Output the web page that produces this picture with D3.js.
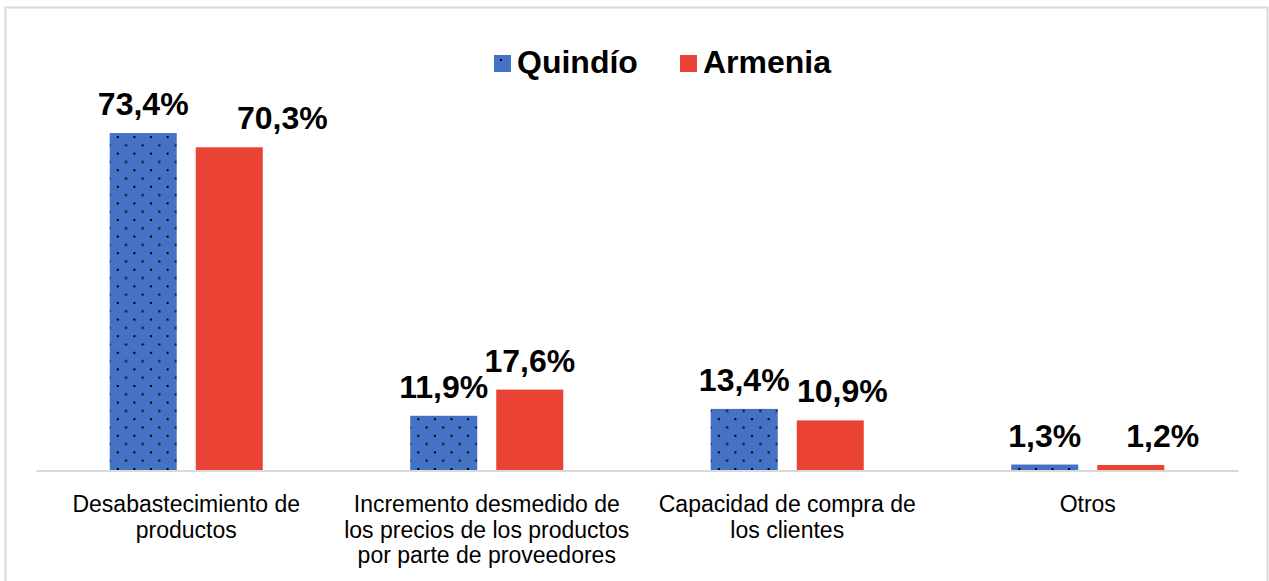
<!DOCTYPE html>
<html>
<head>
<meta charset="utf-8">
<script src="https://cdn.jsdelivr.net/npm/d3@7"></script>
<style>
  body { margin: 0; background: #fff; }
  text { font-family: Arial, "Liberation Sans", sans-serif; }
</style>
</head>
<body>
<div class="chart"></div>
<script>
// data
var categories = [
  "Desabastecimiento de\nproductos",
  "Incremento desmedido de\nlos precios de los productos\npor parte de proveedores",
  "Capacidad de compra de\nlos clientes",
  "Otros"
];
var seriesNames = ["Quindío", "Armenia"];
var quindio = [73.4, 11.9, 13.4, 1.3];
var armenia = [70.3, 17.6, 10.9, 1.2];

var W = 1269, H = 581;
var colors = {"Quindío": "url(#dots)", "Armenia": "#EA4335"};

var svg = d3.select(".chart").append("svg")
  .attr("width", W).attr("height", H);

// dotted fill for Quindío
var pat = svg.append("defs").append("pattern")
  .attr("id", "dots")
  .attr("patternUnits", "userSpaceOnUse")
  .attr("width", 16.6).attr("height", 16.6)
  .attr("x", 114).attr("y", 136);
pat.append("rect").attr("width", 16.6).attr("height", 16.6).attr("fill", "#4472C4");
pat.append("rect").attr("x", 0).attr("y", 0).attr("width", 2).attr("height", 2).attr("fill", "#000");
pat.append("rect").attr("x", 8.3).attr("y", 8.3).attr("width", 2).attr("height", 2).attr("fill", "#000");

// outer frame
svg.append("rect")
  .attr("x", 5.5).attr("y", 7.5)
  .attr("width", 1262).attr("height", 600)
  .attr("fill", "none").attr("stroke", "#d9d9d9").attr("stroke-width", 2);

var x0 = d3.scaleBand().domain(d3.range(categories.length)).range([36, 1238]).padding(0);
var x1 = d3.scaleBand().domain(seriesNames).range([0, x0.bandwidth()])
  .paddingInner(0.221).paddingOuter(0.857);
var y = d3.scaleLinear().domain([0, 80]).range([470.5, 102.7]);

var rows = categories.map(function(c, i) {
  return {i: i, values: [
    {name: "Quindío", v: quindio[i]},
    {name: "Armenia", v: armenia[i]}
  ]};
});

// label nudges (manually moved labels in the original)
var labelDx = {"Quindío": [0, 0, 0, 0], "Armenia": [53, 0, 12, 32]};

var g = svg.selectAll(".cat").data(rows).enter().append("g")
  .attr("class", "cat")
  .attr("transform", function(d) { return "translate(" + x0(d.i) + ",0)"; });

g.selectAll("rect").data(function(d) { return d.values; }).enter().append("rect")
  .attr("x", function(d) { return x1(d.name); })
  .attr("y", function(d) { return y(d.v); })
  .attr("width", x1.bandwidth())
  .attr("height", function(d) { return y(0) - y(d.v); })
  .attr("fill", function(d) { return colors[d.name]; });

g.selectAll(".lbl").data(function(d) { return d.values.map(function(v) { return {name: v.name, v: v.v, i: d.i}; }); })
  .enter().append("text")
  .attr("class", "lbl")
  .attr("x", function(d) { return x1(d.name) + x1.bandwidth() / 2 + labelDx[d.name][d.i]; })
  .attr("y", function(d) { return y(d.v) - 18; })
  .attr("text-anchor", "middle")
  .attr("font-size", "32px")
  .attr("font-weight", "bold")
  .attr("fill", "#000")
  .text(function(d) { return d3.format(".1f")(d.v).replace(".", ",") + "%"; });

// axis
var axis = svg.append("g")
  .attr("transform", "translate(0," + y(0) + ")")
  .call(d3.axisBottom(x0).tickSize(0).tickFormat(""));
axis.select(".domain").attr("stroke", "#d9d9d9").attr("stroke-width", 2);

var tl = svg.selectAll(".catlabel").data(categories).enter().append("text")
  .attr("class", "catlabel")
  .attr("text-anchor", "middle")
  .attr("font-size", "23px")
  .attr("fill", "#000")
  .attr("transform", function(d, i) { return "translate(" + (x0(i) + x0.bandwidth() / 2) + ",512)"; });
tl.selectAll("tspan").data(function(d) { return d.split("\n"); }).enter().append("tspan")
  .attr("x", 0)
  .attr("y", function(d, j) { return j * 25.5; })
  .text(function(d) { return d; });

// legend
var legendX = [494, 680];
var lg = svg.selectAll(".leg").data(seriesNames).enter().append("g")
  .attr("class", "leg")
  .attr("transform", function(d, i) { return "translate(" + legendX[i] + ",55)"; });
lg.append("rect").attr("width", 17).attr("height", 17)
  .attr("fill", function(d) { return d === "Quindío" ? "#4472C4" : colors[d]; });
lg.filter(function(d) { return d === "Quindío"; }).append("rect")
  .attr("x", 6).attr("y", 4).attr("width", 2).attr("height", 2).attr("fill", "#000");
lg.append("text").attr("x", 23).attr("y", 18)
  .attr("font-size", "32px").attr("font-weight", "bold")
  .text(function(d) { return d; });
</script>
</body>
</html>
